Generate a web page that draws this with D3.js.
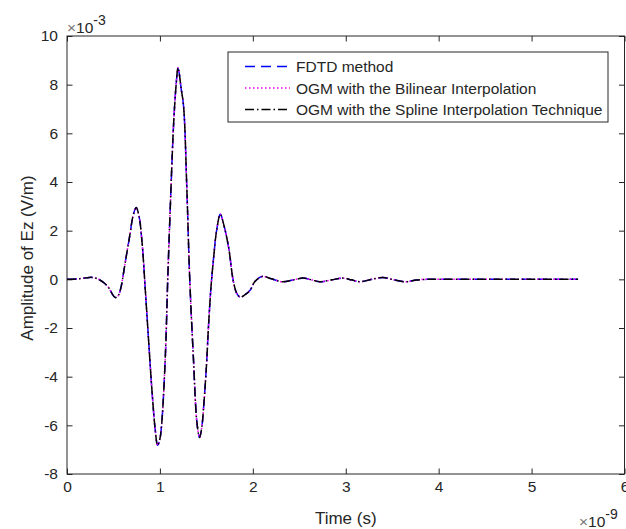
<!DOCTYPE html>
<html>
<head>
<meta charset="utf-8">
<script src="https://cdn.jsdelivr.net/npm/d3@7"></script>
<style>
  body { margin: 0; background: #fff; }
  text { font-family: "Liberation Sans", Arial, sans-serif; fill: #262626; }
</style>
</head>
<body>
<div id="chart"></div>
<script>
// time in ns (axis shows x 10^-9 s)
const time = [0, 0.10, 0.20, 0.27, 0.33, 0.40, 0.45, 0.49, 0.52, 0.55, 0.58, 0.61, 0.64, 0.68, 0.71,
  0.745, 0.775, 0.807, 0.843, 0.878, 0.915, 0.95, 0.975, 1.0, 1.02, 1.058, 1.085, 1.11, 1.148, 1.176,
  1.195, 1.23, 1.255, 1.29, 1.32, 1.36, 1.40, 1.427, 1.45, 1.47, 1.50, 1.524, 1.55, 1.578, 1.61, 1.65,
  1.69, 1.74, 1.79, 1.83, 1.866, 1.92, 1.97, 2.02, 2.10, 2.20, 2.32, 2.43, 2.54, 2.63, 2.72, 2.85,
  2.97, 3.06, 3.15, 3.28, 3.40, 3.52, 3.65, 3.76, 3.87, 4.0, 4.5, 5.0, 5.5];

// Ez amplitude in mV/m (axis shows x 10^-3)
const fdtd = [0, 0.01, 0.06, 0.08, 0.02, -0.15, -0.35, -0.62, -0.75, -0.68, -0.35, 0.3, 1.0, 1.9, 2.6,
  2.95, 2.6, 1.55, -0.45, -2.5, -4.6, -6.2, -6.82, -6.55, -5.9, -3.2, 0.1, 2.8, 6.43, 8.07,
  8.69, 7.8, 7.1, 3.7, 0.1, -3.2, -5.95, -6.5, -6.1, -5.27, -3.6, -1.85, -0.3, 0.89, 2.0, 2.67,
  2.2, 1.3, -0.07, -0.6, -0.73, -0.62, -0.45, -0.1, 0.12, 0.02, -0.1, -0.03, 0.05, -0.02, -0.1, -0.02,
  0.05, -0.02, -0.1, 0.0, 0.08, -0.02, -0.1, -0.03, 0.0, 0, 0, 0, 0];
// the two OGM curves sit on top of the FDTD one
const ogmBilinear = fdtd.slice();
const ogmSpline = fdtd.slice();

const xTicks = [0, 1, 2, 3, 4, 5, 6];
const yTicks = [-8, -6, -4, -2, 0, 2, 4, 6, 8, 10];

const series = [
  {name: "FDTD method", values: fdtd, color: "#0000ff", dash: "10,6"},
  {name: "OGM with the Bilinear Interpolation", values: ogmBilinear, color: "#ff00ff", dash: "1.5,2.5"},
  {name: "OGM with the Spline Interpolation Technique", values: ogmSpline, color: "#000000", dash: "9,3,1.5,3"}
];

const W = 626, H = 529;
const margin = {top: 36, right: 1.5, bottom: 55, left: 67};
const width = W - margin.left - margin.right,
      height = H - margin.top - margin.bottom;

const svg = d3.select("#chart").append("svg")
    .attr("width", W)
    .attr("height", H)
  .append("g")
    .attr("transform", `translate(${margin.left}, ${margin.top})`);

const x = d3.scaleLinear().domain([0, 6]).range([0, width]);
const y = d3.scaleLinear().domain([-8, 10]).range([height, 0]);

// axes box
svg.append("rect")
  .attr("width", width).attr("height", height)
  .attr("fill", "none").attr("stroke", "#262626").attr("stroke-width", 1);

// bottom / left axes with inner ticks (plain hyphen for negatives)
const tl = 5.5;
svg.append("g").attr("transform", `translate(0, ${height})`)
  .call(d3.axisBottom(x).tickValues(xTicks).tickSizeInner(-tl).tickSizeOuter(0).tickPadding(7).tickFormat(d => String(d)));
svg.append("g")
  .call(d3.axisLeft(y).tickValues(yTicks).tickSizeInner(-tl).tickSizeOuter(0).tickPadding(9).tickFormat(d => String(d)));
// top / right ticks
svg.append("g").call(d3.axisTop(x).tickValues(xTicks).tickSizeInner(-tl).tickSizeOuter(0).tickFormat(""));
svg.append("g").attr("transform", `translate(${width}, 0)`)
  .call(d3.axisRight(y).tickValues(yTicks).tickSizeInner(-tl).tickSizeOuter(0).tickFormat(""));

svg.selectAll(".domain").remove();
svg.selectAll(".tick line").attr("stroke", "#262626");
svg.selectAll(".tick text").style("font-size", "15.5px").attr("fill", "#262626");

// exponent labels
svg.append("text").attr("x", 0).attr("y", -3).style("font-size", "15.5px")
  .html('<tspan fill="#777">×</tspan>10<tspan dy="-8" style="font-size:14px">-3</tspan>');
svg.append("text").attr("x", 512).attr("y", 491).style("font-size", "15.5px")
  .html('<tspan fill="#777">×</tspan>10<tspan dy="-8" style="font-size:14px">-9</tspan>');

// axis titles
svg.append("text")
  .attr("x", width / 2).attr("y", height + 50)
  .attr("text-anchor", "middle").style("font-size", "17px")
  .text("Time (s)");
svg.append("text")
  .attr("transform", `translate(-34, ${height / 2 + 3}) rotate(-90)`)
  .attr("text-anchor", "middle").style("font-size", "17px")
  .text("Amplitude of Ez (V/m)");

// Lines
const line = d3.line()
  .x((d, i) => x(time[i]))
  .y(d => y(d))
  .curve(d3.curveCatmullRom.alpha(0.5));

series.forEach(s => {
  svg.append("path")
    .datum(s.values)
    .attr("d", line)
    .attr("fill", "none")
    .attr("stroke", s.color)
    .attr("stroke-width", 1.5)
    .attr("stroke-dasharray", s.dash);
});

// Legend
const lg = svg.append("g").attr("transform", `translate(${228 - margin.left}, ${52 - margin.top})`);
lg.append("rect").attr("width", 380).attr("height", 70)
  .attr("fill", "#fff").attr("stroke", "#262626").attr("stroke-width", 1);
series.forEach((s, i) => {
  const yy = 14.5 + i * 21.5;
  lg.append("line").attr("x1", 17).attr("x2", 62).attr("y1", yy).attr("y2", yy)
    .attr("stroke", s.color).attr("stroke-width", 1.5).attr("stroke-dasharray", s.dash);
  lg.append("text").attr("x", 68).attr("y", yy + 5.5).style("font-size", "15.5px").text(s.name);
});
</script>
</body>
</html>
